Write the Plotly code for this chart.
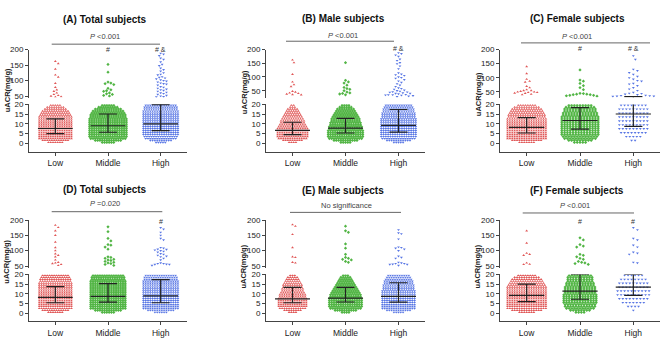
import plotly.graph_objects as go

W, H = 669, 345
categories = ["Low", "Middle", "High"]
panel_titles = ["(A) Total subjects", "(B) Male subjects", "(C) Female subjects",
                "(D) Total subjects", "(E) Male subjects", "(F) Female subjects"]
p_texts = ["<i>P</i> <0.001", "<i>P</i> <0.001", "<i>P</i> <0.001",
           "<i>P</i> =0.020", "No significance", "<i>P</i> <0.001"]
sig_marks = [["", "#", "# &"], ["", "", "# &"], ["", "#", "# &"],
             ["", "", "#"], ["", "", ""], ["", "#", "#"]]
y_title = "uACR(mg/g)"
lower_ticks = [0, 5, 10, 15, 20]
upper_ticks = [50, 100, 150, 200]
# lower segment: number of subjects in each 1 mg/g bin, bins 0-1 ... 19-20
bin_starts = list(range(20))

counts_A = [[7, 12, 15, 15, 15, 15, 15, 15, 15, 15, 15, 15, 15, 15, 14, 13, 12, 10, 8, 5],
            [6, 12, 16, 17, 17, 17, 17, 17, 17, 17, 17, 17, 17, 16, 16, 15, 14, 12, 9, 6],
            [5, 10, 14, 15, 16, 16, 16, 16, 16, 16, 16, 16, 16, 16, 16, 16, 16, 15, 15, 14]]
outliers_A = [[162, 155, 137, 118, 111, 91, 78, 70, 65, 60, 55, 52, 50, 48, 47],
              [152, 127, 95, 92, 90, 87, 75, 70, 67, 65, 60, 57, 55, 52, 50],
              [188, 185, 180, 172, 168, 160, 152, 148, 140, 135, 130, 125, 120, 118, 112, 110,
               108, 105, 102, 100, 98, 95, 92, 90, 88, 85, 80, 78, 75, 72, 70, 68, 65, 62, 60,
               58, 55, 52, 50, 48, 47]]
median_A = [7.6, 9.0, 10.0]
q1_A = [5.0, 5.7, 6.5]
q3_A = [12.5, 15.0, 19.8]

counts_B = [[4, 9, 13, 14, 14, 14, 14, 14, 13, 12, 11, 11, 10, 9, 8, 7, 6, 5, 3, 2],
            [5, 11, 15, 16, 16, 16, 16, 15, 15, 14, 14, 13, 13, 12, 11, 10, 9, 8, 6, 4],
            [5, 11, 15, 16, 16, 16, 16, 16, 16, 16, 16, 16, 16, 15, 15, 15, 14, 14, 13, 12]]
outliers_B = [[162, 152, 110, 82, 72, 65, 48, 45, 42, 40, 38, 36, 35],
              [152, 88, 82, 78, 70, 62, 58, 55, 50, 45, 42, 40, 38, 35],
              [188, 185, 180, 175, 165, 160, 152, 148, 140, 130, 115, 110, 108, 105, 100, 98,
               95, 90, 85, 80, 75, 70, 65, 60, 58, 55, 52, 50, 48, 46, 45, 44, 42, 40, 40, 38,
               36, 35, 35, 34, 33, 32, 30, 28]]
median_B = [6.7, 7.8, 9.2]
q1_B = [4.5, 5.3, 5.8]
q3_B = [10.8, 12.8, 17.3]

counts_C = [[7, 13, 17, 17, 17, 17, 17, 17, 17, 17, 17, 17, 17, 16, 16, 15, 14, 13, 11, 8],
            [5, 9, 12, 13, 14, 14, 14, 14, 14, 14, 14, 14, 14, 14, 13, 13, 12, 12, 11, 9],
            [0, 2, 0, 5, 0, 8, 0, 9, 0, 9, 0, 9, 0, 9, 0, 9, 0, 9, 0, 8]]
outliers_C = [[140, 115, 95, 88, 85, 70, 65, 58, 55, 55, 52, 50, 50, 48, 48, 46, 45, 42, 40],
              [128, 92, 88, 80, 72, 65, 58, 45, 44, 42, 42, 40, 40, 38, 38, 36, 35],
              [178, 165, 130, 125, 118, 112, 105, 100, 95, 90, 88, 80, 78, 72, 65, 60, 55, 48,
               45, 44, 42, 40, 38, 37, 36, 35, 35, 34]]
median_C = [8.2, 11.7, 15.0]
q1_C = [5.3, 7.3, 8.7]
q3_C = [13.2, 18.3, 33.0]

counts_D = [[7, 12, 15, 15, 15, 15, 15, 15, 15, 15, 15, 15, 15, 15, 15, 15, 14, 14, 13, 12],
            [6, 12, 16, 16, 16, 16, 16, 16, 16, 16, 16, 16, 16, 16, 16, 16, 16, 15, 15, 14],
            [6, 12, 16, 16, 16, 16, 16, 16, 16, 16, 16, 16, 16, 16, 16, 16, 16, 15, 15, 14]]
outliers_D = [[183, 176, 165, 150, 128, 110, 100, 90, 85, 80, 70, 62, 60, 58, 55, 52],
              [178, 162, 140, 132, 120, 118, 112, 105, 80, 78, 75, 72, 70, 68, 65, 62, 60, 58,
               55, 52],
              [175, 170, 160, 150, 140, 135, 110, 108, 105, 104, 102, 100, 98, 95, 90, 88, 85,
               82, 80, 75, 70, 60, 58, 58, 56, 55, 55, 52]]
median_D = [8.2, 8.7, 9.0]
q1_D = [5.4, 5.7, 5.4]
q3_D = [13.7, 15.3, 17.3]

counts_E = [[4, 8, 12, 13, 13, 13, 13, 13, 12, 12, 11, 10, 10, 9, 9, 8, 7, 6, 5, 3],
            [4, 10, 14, 15, 15, 15, 15, 15, 14, 14, 13, 12, 11, 10, 9, 8, 7, 6, 5, 3],
            [5, 11, 15, 15, 15, 15, 15, 15, 15, 15, 15, 15, 14, 14, 14, 13, 13, 12, 11, 10]]
outliers_E = [[185, 180, 153, 110, 80, 78, 62, 60],
              [180, 165, 160, 122, 108, 88, 78, 75, 72, 70, 65, 62],
              [168, 158, 155, 138, 112, 110, 108, 105, 100, 82, 78, 75, 62, 60, 58, 58, 56, 55,
               55, 52]]
median_E = [7.4, 7.8, 8.7]
q1_E = [5.4, 5.8, 5.7]
q3_E = [13.3, 13.3, 15.7]

counts_F = [[7, 13, 17, 17, 17, 17, 17, 17, 17, 17, 17, 17, 17, 17, 16, 15, 14, 13, 11, 8],
            [4, 8, 11, 12, 12, 13, 13, 13, 13, 13, 12, 12, 12, 12, 11, 11, 10, 10, 10, 9],
            [0, 1, 0, 4, 0, 7, 0, 9, 0, 10, 0, 10, 0, 9, 0, 9, 0, 8, 0, 6]]
outliers_F = [[165, 125, 92, 88, 85, 60, 56, 55],
              [142, 135, 120, 115, 112, 88, 85, 80, 75, 72, 65, 62, 60, 58, 55],
              [175, 168, 140, 135, 118, 112, 95, 92, 88, 62, 60]]
median_F = [9.2, 11.4, 13.5]
q1_F = [6.0, 7.2, 9.2]
q3_F = [15.0, 20.0, 20.0]

all_counts = [counts_A, counts_B, counts_C, counts_D, counts_E, counts_F]
all_outliers = [outliers_A, outliers_B, outliers_C, outliers_D, outliers_E, outliers_F]
all_median = [median_A, median_B, median_C, median_D, median_E, median_F]
all_q1 = [q1_A, q1_B, q1_C, q1_D, q1_E, q1_F]
all_q3 = [q3_A, q3_B, q3_C, q3_D, q3_E, q3_F]

# ---------------- styling / layout (pixels) ----------------
FONT = "Arial, 'Liberation Sans', sans-serif"
colors = ["#e05656", "#52b545", "#5876e4"]
symbols = ["triangle-up", "diamond", "triangle-down"]
gaps_px = [[2.3, 2.3, 2.3], [2.3, 2.3, 2.3], [2.4, 2.8, 3.5],
           [2.3, 2.3, 2.3], [2.3, 2.3, 2.3], [2.4, 2.7, 3.5]]
panel_x = [(29, 187), (266, 425), (500, 660)] * 2
row_upper = [(46.5, 95.5), (220.5, 269.0)]   # (top px, bottom px)
row_lower = [(102.3, 150.7), (276.0, 324.0)]  # (top px, bottom px)
upper_lo = [45, 25, 30, 45, 45, 45]
lower_range = [-4.2, 20]
title_pos = [(105, 16), (343, 15), (577, 15), (105, 189), (343, 190), (577, 190)]
ptext_pos = [(105, 33.5), (343, 32), (577, 33), (105, 204), (346, 205.5), (575, 205.5)]
pline = [(51.7, 160, 41), (286, 394, 38), (521, 650, 39.7),
         (51.7, 162.3, 212), (290, 401, 212.7), (522.7, 634, 213.3)]
sig_y = [46, 45, 45, 221.7, 221.7, 221.7]
ytitle_y = [88, 90, 92, 263, 268, 268]
marker_size = 2.5


def fx(p):
    return p / W


def fy(p):
    return 1 - p / H


def swarm(values, gap, ppx, ppy):
    placed = []
    for v in sorted(values, reverse=True):
        k = 0
        while True:
            cands = [0.0] if k == 0 else [k * 0.5 * gap, -k * 0.5 * gap]
            found = None
            for ox in cands:
                if all((ox - a) ** 2 + ((v - b) * ppy) ** 2 >= gap ** 2 for a, b in placed):
                    found = ox
                    break
            if found is not None:
                placed.append((found, v))
                break
            k += 1
    return [a / ppx for a, _ in placed], [b for _, b in placed]


fig = go.Figure()
layout = dict(width=W, height=H, margin=dict(l=0, r=0, t=0, b=0),
              paper_bgcolor="white", plot_bgcolor="white", showlegend=False,
              font=dict(family=FONT, color="#222"))
annotations = []
shapes = []

for p in range(6):
    row = p // 3
    xi = p + 1
    yl = 2 * p + 1
    yu = 2 * p + 2
    xname = "x" if xi == 1 else f"x{xi}"
    ylname = "y" if yl == 1 else f"y{yl}"
    yuname = f"y{yu}"
    x0, x1 = panel_x[p]
    ppx = (x1 - x0) / 3.0
    ut, ub = row_upper[row]
    lt, lb = row_lower[row]
    ppy_up = (ub - ut) / (200 - upper_lo[p])

    for g in range(3):
        gap = gaps_px[p][g]
        xs, ys = [], []
        for k, n in zip(bin_starts, all_counts[p][g]):
            for i in range(n):
                xs.append(g + (i - (n - 1) / 2) * gap / ppx)
                ys.append(k + 0.5)
        mk = dict(color=colors[g], size=marker_size, symbol=symbols[g], line=dict(width=0))
        fig.add_trace(go.Scatter(x=xs, y=ys, mode="markers", marker=mk,
                                 xaxis=xname, yaxis=ylname, hoverinfo="skip"))
        ox, oy = swarm(all_outliers[p][g], gap + 0.6, ppx, ppy_up)
        fig.add_trace(go.Scatter(x=[g + o for o in ox], y=oy, mode="markers", marker=mk,
                                 xaxis=xname, yaxis=yuname, hoverinfo="skip"))

        med, a, b = all_median[p][g], all_q1[p][g], all_q3[p][g]
        lx, ly = [], []
        lx += [g - 0.33, g + 0.33, None]
        ly += [med, med, None]
        lx += [g - 0.17, g + 0.17, None]
        ly += [a, a, None]
        lx += [g, g, None]
        ly += [a, min(b, 20), None]
        if b <= 20:
            lx += [g - 0.17, g + 0.17, None]
            ly += [b, b, None]
        fig.add_trace(go.Scatter(x=lx, y=ly, mode="lines",
                                 line=dict(color="#222", width=1.2),
                                 xaxis=xname, yaxis=ylname, hoverinfo="skip"))
        if b > 20:
            fig.add_trace(go.Scatter(x=[g, g, None, g - 0.17, g + 0.17],
                                     y=[upper_lo[p], b, None, b, b], mode="lines",
                                     line=dict(color="#222", width=1.2),
                                     xaxis=xname, yaxis=yuname, hoverinfo="skip"))
        if sig_marks[p][g]:
            annotations.append(dict(x=g, y=fy(sig_y[p]), xref=xname, yref="paper",
                                    text=sig_marks[p][g], showarrow=False,
                                    font=dict(size=7, color="#333"),
                                    xanchor="center", yanchor="middle"))

    axis_common = dict(showline=True, linecolor="#444", linewidth=1, ticks="outside",
                       ticklen=3, tickcolor="#444", showgrid=False, zeroline=False,
                       fixedrange=True)
    layout["xaxis" if xi == 1 else f"xaxis{xi}"] = dict(
        domain=[fx(x0), fx(x1)], range=[-0.5, 2.5], anchor=ylname,
        tickvals=[0, 1, 2], ticktext=categories,
        tickfont=dict(size=8.5, color="#222", family=FONT), **axis_common)
    layout["yaxis" if yl == 1 else f"yaxis{yl}"] = dict(
        domain=[fy(lb), fy(lt)], range=lower_range, anchor=xname,
        tickvals=lower_ticks, tickfont=dict(size=8, color="#222", family=FONT),
        **axis_common)
    layout[f"yaxis{yu}"] = dict(
        domain=[fy(ub), fy(ut)], range=[upper_lo[p], 200], anchor=xname,
        tickvals=upper_ticks, tickfont=dict(size=8, color="#222", family=FONT),
        **axis_common)

    tx, ty = title_pos[p]
    annotations.append(dict(x=fx(tx), y=fy(ty), xref="paper", yref="paper",
                            text="<b>" + panel_titles[p] + "</b>", showarrow=False,
                            font=dict(size=10, color="#111", family=FONT),
                            xanchor="center", yanchor="middle"))
    px_, py_ = ptext_pos[p]
    annotations.append(dict(x=fx(px_), y=fy(py_), xref="paper", yref="paper",
                            text=p_texts[p], showarrow=False,
                            font=dict(size=7.5, color="#444", family=FONT),
                            xanchor="center", yanchor="middle"))
    la, lb2, lyy = pline[p]
    shapes.append(dict(type="line", xref="paper", yref="paper",
                       x0=fx(la), x1=fx(lb2), y0=fy(lyy), y1=fy(lyy),
                       line=dict(color="#666", width=1)))
    annotations.append(dict(x=fx(x0 - 22), y=fy(ytitle_y[p]), xref="paper", yref="paper",
                            text="<b>" + y_title + "</b>", showarrow=False, textangle=-90,
                            font=dict(size=7.5, color="#222", family=FONT),
                            xanchor="center", yanchor="middle"))

layout["annotations"] = annotations
layout["shapes"] = shapes
fig.update_layout(**layout)
fig.write_html("out.html", config={"displayModeBar": False},
               post_script="document.body.style.margin='0px';document.body.style.overflow='hidden';")
